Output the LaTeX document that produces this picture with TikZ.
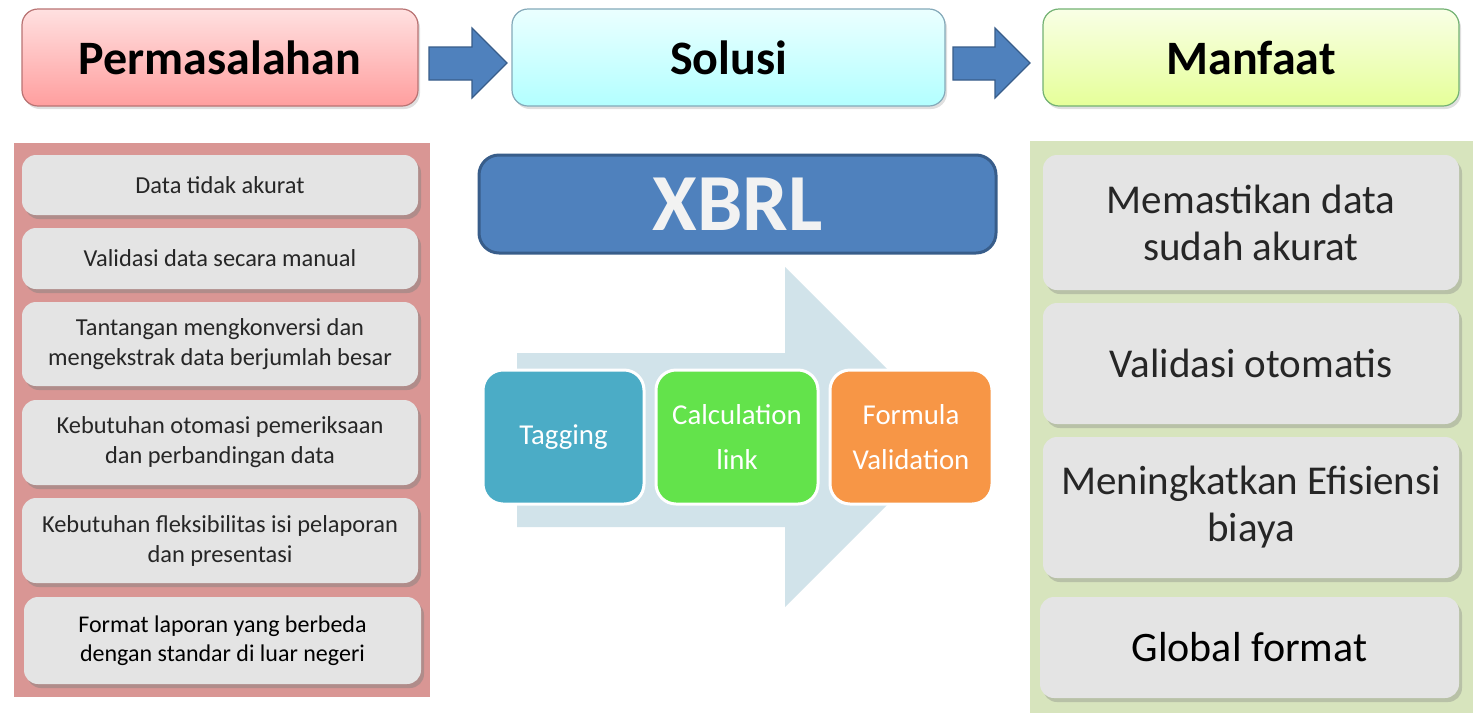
\documentclass[tikz,border=0pt]{standalone}
\usepackage{fontspec}
\setmainfont{Carlito}
\usetikzlibrary{shadows}
\definecolor{pinkpanel}{HTML}{D99694}
\definecolor{greenpanel}{HTML}{D7E4BD}
\definecolor{boxgray}{HTML}{E4E4E4}
\definecolor{arrowblue}{HTML}{4F81BD}
\definecolor{arrowdark}{HTML}{385D8A}
\definecolor{bigarrow}{HTML}{D1E3EA}
\definecolor{tagcol}{HTML}{4BACC6}
\definecolor{calccol}{HTML}{63E34B}
\definecolor{formcol}{HTML}{F79646}
\definecolor{txtgray}{HTML}{262626}
\tikzset{
  hdr/.style={draw, rounded corners=8pt, minimum height=48.5pt, line width=0.6pt,
    font=\bfseries\fontsize{24}{28}\selectfont, inner sep=0pt,
    drop shadow={shadow xshift=1pt, shadow yshift=-1.5pt, opacity=0.25}},
  gbox/.style={fill=boxgray, rounded corners=7pt, align=center, inner sep=0pt,
    text=txtgray, minimum width=198pt,
    drop shadow={shadow xshift=1.5pt, shadow yshift=-2pt, opacity=0.45}},
  lfont/.style={font=\fontsize{12.2}{15}\selectfont},
  rbox/.style={fill=boxgray, rounded corners=7pt, align=center, inner sep=0pt,
    text=txtgray, minimum width=208pt,
    font=\fontsize{20.5}{23.5}\selectfont,
    drop shadow={shadow xshift=1.5pt, shadow yshift=-2pt, opacity=0.35}},
  step3/.style={draw=white, line width=1.5pt, rounded corners=10pt, minimum height=67pt,
    text=white, align=center, inner sep=0pt,
    font=\fontsize{14.4}{22.5}\selectfont},
  blockarrow/.style={fill=arrowblue, draw=arrowdark, line width=0.6pt}
}
\begin{document}
\begin{tikzpicture}[x=0.5pt,y=-0.5pt]
\useasboundingbox[fill=white] (0,0) rectangle (1473,713);

% headers
\node[hdr, top color=red!12, bottom color=red!38, draw=red!50!black!55, minimum width=198pt] (perm) at (220,57.5) {Permasalahan};
\node[hdr, top color=cyan!8, bottom color=cyan!30, draw=cyan!50!black!60, minimum width=216.5pt] (sol) at (728.5,57.5) {Solusi};
\node[hdr, top color=lime!10, bottom color=lime!40, draw=green!45!black!55, minimum width=208pt] (manf) at (1251,57.5) {Manfaat};

% block arrows between headers
\draw[blockarrow] (429,47) -- (472,47) -- (472,28) -- (507,63) -- (472,98) -- (472,80) -- (429,80) -- cycle;
\draw[blockarrow] (953,47) -- (995,47) -- (995,28) -- (1030,63) -- (995,98) -- (995,80) -- (953,80) -- cycle;

% panels
\fill[pinkpanel] (14,143) rectangle (430,697);
\fill[greenpanel] (1030,141) rectangle (1473,713);

% left boxes
\node[gbox, lfont, minimum height=30pt] (l1) at (220,185) {Data tidak akurat};
\node[gbox, lfont, minimum height=30.5pt] (l2) at (220,258.5) {Validasi data secara manual};
\node[gbox, lfont, minimum height=42pt] (l3) at (220,344) {Tantangan mengkonversi dan\\mengekstrak data berjumlah besar};
\node[gbox, lfont, minimum height=42.5pt] (l4) at (220,442.5) {Kebutuhan otomasi pemeriksaan\\dan perbandingan data};
\node[gbox, lfont, minimum height=42.5pt] (l5) at (220,540.5) {Kebutuhan fleksibilitas isi pelaporan\\dan presentasi};
\node[gbox, text=black, font=\fontsize{12}{14.5}\selectfont, minimum height=43.5pt, minimum width=198.5pt] (l6) at (222.5,640.5) {Format laporan yang berbeda\\dengan standar di luar negeri};

% right boxes
\node[rbox, minimum height=67.5pt] (r1) at (1251,222.5) {Memastikan data\\sudah akurat};
\node[rbox, minimum height=60.5pt] (r2) at (1251,363.5) {Validasi otomatis};
\node[rbox, minimum height=70.5pt] (r3) at (1251,507.5) {Meningkatkan Efisiensi\\biaya};
\node[rbox, text=black, font=\fontsize{21}{24}\selectfont, minimum height=50.5pt, minimum width=209.5pt] (r4) at (1249.5,647.5) {Global format};

% XBRL
\node[fill=arrowblue, draw=arrowdark, line width=1.5pt, rounded corners=10pt,
  minimum width=258.5pt, minimum height=49pt, inner sep=0pt,
  text=white!95!black, font=\bfseries\fontsize{40.5}{44}\selectfont] (xbrl) at (737.5,204) {XBRL};

% big light arrow
\fill[bigarrow] (517,353) -- (785,353) -- (785,267) -- (955,437) -- (785,607) -- (785,527) -- (517,527) -- cycle;

% three steps
\node[step3, fill=tagcol, minimum width=80.5pt] (tag) at (563.5,437) {Tagging};
\node[step3, fill=calccol, minimum width=81pt] (calc) at (737,437) {Calculation\\link};
\node[step3, fill=formcol, minimum width=81pt] (form) at (911,437) {Formula\\Validation};
\end{tikzpicture}
\end{document}
